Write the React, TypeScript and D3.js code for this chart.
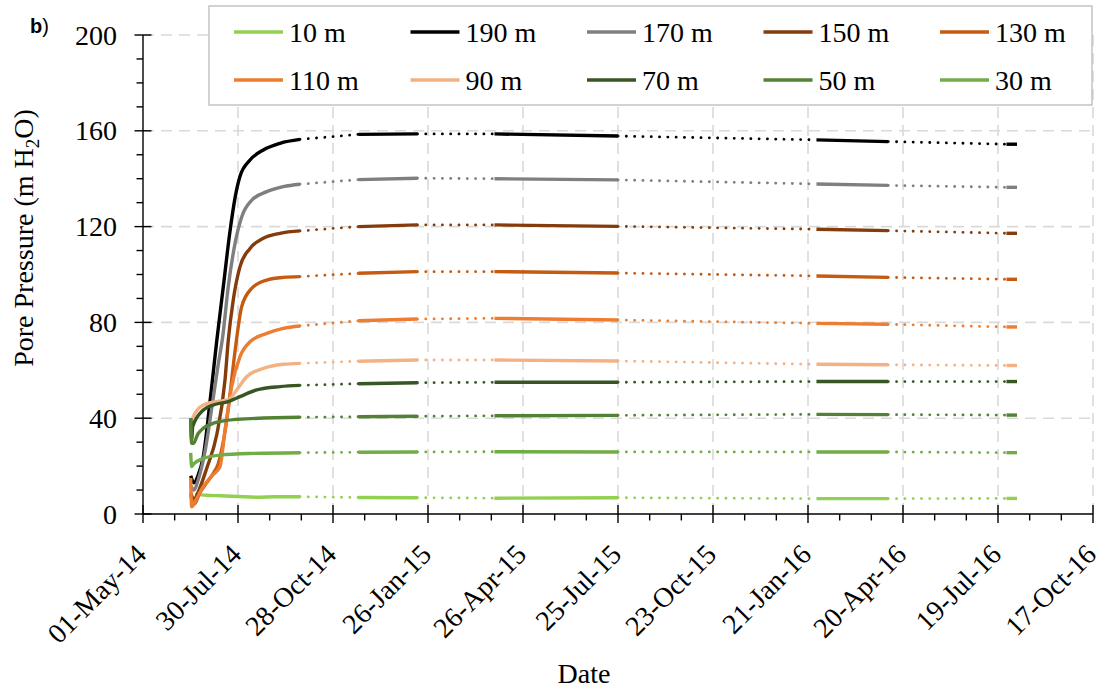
import React from 'react';
import * as d3 from 'd3';

type Pt = [number, number]; // [days since 01-May-14, pore pressure]

// legend order (also drawing order)
const depths = ['10 m', '190 m', '170 m', '150 m', '130 m', '110 m', '90 m', '70 m', '50 m', '30 m'];
const colors = ['#92d050', '#000000', '#7f7f7f', '#843c0c', '#c55a11', '#ed7d31', '#f4b183', '#375623', '#548235', '#70ad47'];

// first logging period: installation and build-up
const rise10: Pt[] = [[49.3, 8.2], [60, 7.8], [72.9, 7.6], [90, 7.3], [107.7, 7.0], [125, 7.2], [148.7, 7.2]];
const rise190: Pt[] = [[45.2, 16], [48.3, 13], [52.1, 16], [57.1, 24], [63.5, 47], [69.8, 72], [76.1, 95], [82.4, 118], [87.2, 132], [91.9, 141], [101.4, 147.8], [114, 152], [129.8, 154.8], [148.7, 156.4]];
const rise170: Pt[] = [[45.2, 12], [48.3, 10], [52.1, 14], [58.7, 26], [65.4, 45], [71.1, 62], [75.5, 74], [80.8, 95], [87.2, 113], [93.5, 124], [103, 131], [117.2, 134.6], [132.9, 136.7], [148.7, 137.7]];
const rise150: Pt[] = [[45.2, 9], [48.3, 6], [52.1, 9], [60.3, 19], [69.8, 33], [77.7, 56], [80.8, 72.6], [85.5, 89.4], [91.9, 103.3], [101.4, 110.9], [114, 115.1], [129.8, 117.2], [148.7, 118.2]];
const rise130: Pt[] = [[45.2, 8], [48.3, 4], [54, 9], [60.3, 13], [66.6, 17], [71.3, 21], [76, 30], [80.8, 44], [87.2, 68], [93.5, 86.6], [103, 94.2], [117.2, 97.7], [132.9, 98.8], [148.7, 99.1]];
const rise110: Pt[] = [[45.2, 15], [46.1, 3], [50.2, 6], [57.1, 11.4], [65.4, 16], [72.9, 19.7], [77.7, 35], [84, 53.2], [91.9, 65.7], [101.4, 71.9], [117.2, 75.4], [132.9, 77.5], [148.7, 78.5]];
const rise90: Pt[] = [[45.2, 36], [47.7, 40.6], [57.1, 45.5], [69.8, 46.9], [80.8, 47.6], [88.8, 51.8], [98.2, 57.3], [114, 60.8], [132.9, 62.5], [148.7, 62.9]];
const rise70: Pt[] = [[45.2, 40], [46.1, 31], [47.1, 36.5], [57.1, 43.4], [66.6, 45.5], [80.8, 46.9], [91.9, 49], [107.7, 51.8], [129.8, 53.2], [148.7, 53.7]];
const rise50: Pt[] = [[45.2, 40], [46.1, 29.5], [47.7, 29.5], [52.1, 33.5], [57.1, 35.8], [66.6, 37.9], [88.8, 39.5], [148.7, 40.4]];
const rise30: Pt[] = [[45.2, 25.5], [46.1, 19.8], [48.3, 21], [57.1, 23.2], [72.9, 24.6], [104.5, 25.3], [148.7, 25.6]];

// later logging periods: [start, end] day of each download window
const periodDays = [204, 260, 333, 450, 638, 706, 818, 828];
// values at start/end of each later period
const plateau10 = [6.9, 6.8, 6.6, 6.8, 6.4, 6.4, 6.5, 6.5];
const plateau190 = [158.5, 158.7, 158.7, 157.8, 156.2, 155.5, 154.4, 154.4];
const plateau170 = [139.6, 140.2, 140.0, 139.5, 137.8, 137.2, 136.4, 136.4];
const plateau150 = [120.0, 120.7, 120.7, 120.1, 118.9, 118.3, 117.2, 117.2];
const plateau130 = [100.5, 101.2, 101.2, 100.6, 99.4, 98.8, 98.0, 98.0];
const plateau110 = [80.7, 81.4, 81.7, 81.0, 79.6, 79.2, 78.1, 78.1];
const plateau90 = [63.8, 64.3, 64.3, 63.9, 62.5, 62.3, 62.0, 62.0];
const plateau70 = [54.4, 54.8, 55.0, 55.0, 55.3, 55.3, 55.3, 55.3];
const plateau50 = [40.6, 40.8, 41.0, 41.2, 41.6, 41.5, 41.3, 41.3];
const plateau30 = [25.8, 25.9, 26.0, 25.9, 25.9, 25.9, 25.6, 25.6];

const rises = [rise10, rise190, rise170, rise150, rise130, rise110, rise90, rise70, rise50, rise30];
const plateaus = [plateau10, plateau190, plateau170, plateau150, plateau130, plateau110, plateau90, plateau70, plateau50, plateau30];

const xTicks = d3.range(0, 901, 90);
const yTicks = [0, 40, 80, 120, 160, 200];

const START = new Date(2014, 4, 1);
const fmt = d3.timeFormat('%d-%b-%y');
const serif = '"Liberation Serif", "Times New Roman", Times, serif';
const serifStyle = { fontFamily: serif };

export default function App() {
  const x = d3.scaleLinear().domain([0, 900]).range([143, 1093]);
  const y = d3.scaleLinear().domain([0, 200]).range([514, 35]);

  const smooth = d3.line<Pt>().x(d => x(d[0])).y(d => y(d[1])).curve(d3.curveMonotoneX);
  const straight = d3.line<Pt>().x(d => x(d[0])).y(d => y(d[1]));

  const series = depths.map((name, i) => {
    const segs: Pt[][] = [rises[i]];
    for (let k = 0; k < periodDays.length; k += 2) {
      segs.push([[periodDays[k], plateaus[i][k]], [periodDays[k + 1], plateaus[i][k + 1]]]);
    }
    const gaps: Pt[][] = [];
    for (let k = 0; k < segs.length - 1; k++) {
      gaps.push([segs[k][segs[k].length - 1], segs[k + 1][0]]);
    }
    return { name, color: colors[i], segs, gaps };
  });

  const minorX = d3.range(0, 901, 30).filter(d => d % 90 !== 0);
  const minorY = d3.range(0, 201, 10).filter(d => d % 40 !== 0);

  return (
    <svg width={1103} height={692} style={{ position: 'absolute', left: 0, top: 0, display: 'block', background: '#fff' }}>
      {/* grid */}
      <g stroke="#d9d9d9" strokeWidth={1.6} strokeDasharray="11 7">
        {yTicks.filter(t => t > 0).map(t => (
          <line key={'gy' + t} x1={x(0)} x2={x(900)} y1={y(t)} y2={y(t)} />
        ))}
        {xTicks.filter(t => t > 0).map(t => (
          <line key={'gx' + t} x1={x(t)} x2={x(t)} y1={y(200)} y2={y(0)} />
        ))}
      </g>

      {/* data */}
      {series.map(s => (
        <g key={s.name} fill="none" stroke={s.color}>
          {s.gaps.map((g, j) => (
            <path key={'g' + j} d={straight(g) || ''} strokeWidth={2.8} strokeDasharray="0.1 8.2" strokeLinecap="round" />
          ))}
          {s.segs.map((g, j) => (
            <path key={'s' + j} d={(j === 0 ? smooth(g) : straight(g)) || ''} strokeWidth={3.4} strokeLinejoin="round" />
          ))}
        </g>
      ))}

      {/* axes */}
      <g stroke="#000" strokeWidth={1.4}>
        <line x1={x(0)} x2={x(0)} y1={y(200)} y2={y(0)} />
        <line x1={x(0)} x2={x(900)} y1={y(0)} y2={y(0)} />
        {yTicks.map(t => <line key={'ty' + t} x1={x(0) - 8.5} x2={x(0) + 8.5} y1={y(t)} y2={y(t)} />)}
        {minorY.map(t => <line key={'my' + t} x1={x(0) - 6.5} x2={x(0)} y1={y(t)} y2={y(t)} />)}
        {xTicks.map(t => <line key={'tx' + t} x1={x(t)} x2={x(t)} y1={y(0) - 9} y2={y(0) + 9} />)}
        {minorX.map(t => <line key={'mx' + t} x1={x(t)} x2={x(t)} y1={y(0)} y2={y(0) + 6.5} />)}
      </g>

      <g style={serifStyle} fontSize={28} fill="#000">
        {yTicks.map(t => (
          <text key={'ly' + t} x={117} y={y(t) + 9.5} textAnchor="end" style={serifStyle}>{t}</text>
        ))}
        {xTicks.map(t => (
          <text key={'lx' + t} transform={`translate(${x(t) + 5},${556}) rotate(-45)`} textAnchor="end" style={serifStyle}>
            {fmt(d3.timeDay.offset(START, t))}
          </text>
        ))}
        <text x={584} y={683} textAnchor="middle" style={serifStyle}>Date</text>
        <text transform="translate(33,238) rotate(-90)" textAnchor="middle" style={serifStyle}>
          Pore Pressure (m H<tspan fontSize={19} dy={6}>2</tspan><tspan dy={-6}>O)</tspan>
        </text>
      </g>

      <text x={30} y={33} style={{ fontFamily: '"Liberation Sans", Arial, sans-serif' }} fontSize={20}>
        <tspan fontWeight="bold">b</tspan>)
      </text>

      {/* legend */}
      <rect x={209} y={6} width={883} height={99} fill="#fff" stroke="#bfbfbf" strokeWidth={1.4} />
      {series.map((s, i) => {
        const lx = 234 + (i % 5) * 176.5;
        const ly = 32 + Math.floor(i / 5) * 48;
        return (
          <g key={'lg' + s.name}>
            <line x1={lx} x2={lx + 49} y1={ly} y2={ly} stroke={s.color} strokeWidth={3.4} />
            <text x={lx + 55} y={ly + 9.5} style={serifStyle} fontSize={28}>{s.name}</text>
          </g>
        );
      })}
    </svg>
  );
}
